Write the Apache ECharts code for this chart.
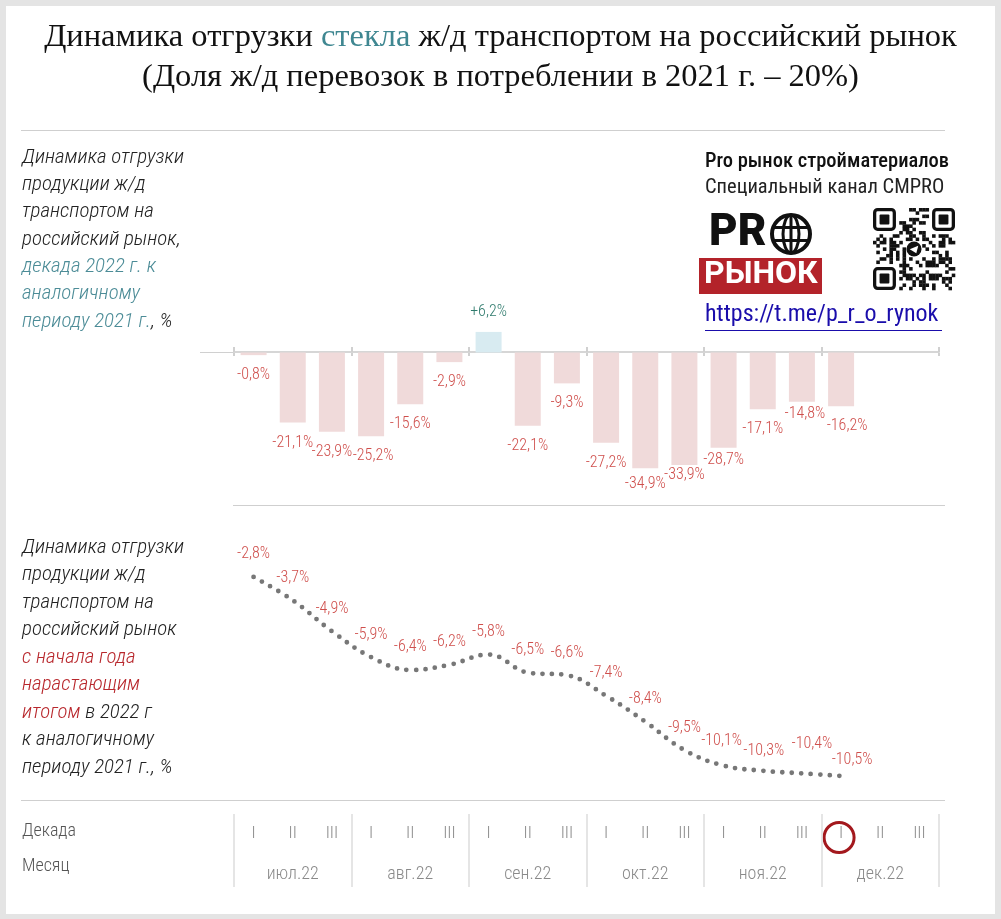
<!DOCTYPE html>
<html><head><meta charset="utf-8">
<script src="https://cdn.jsdelivr.net/npm/echarts@6/dist/echarts.min.js"></script>
<style>html,body{margin:0;padding:0;background:#e4e4e4;}#c{width:1001px;height:919px;}</style>
</head><body><div id="c"></div>
<script>
// ---- data ----
const months = ['июл.22', 'авг.22', 'сен.22', 'окт.22', 'ноя.22', 'дек.22'];
const decades = ['I', 'II', 'III'];
const decadeChange = [-0.8, -21.1, -23.9, -25.2, -15.6, -2.9, 6.2, -22.1, -9.3, -27.2, -34.9, -33.9, -28.7, -17.1, -14.8, -16.2];
const cumulativeChange = [-2.8, -3.7, -4.9, -5.9, -6.4, -6.2, -5.8, -6.5, -6.6, -7.4, -8.4, -9.5, -10.1, -10.3, -10.4, -10.5];
const currentDecadeIndex = 15;

const categories = [];
const decadeLabels = [];
months.forEach(m => decades.forEach(d => { categories.push(m + ' ' + d); decadeLabels.push(d); }));

const FONT = "'Roboto Condensed','Liberation Sans Narrow',Roboto,sans-serif";
const SERIF = "'Liberation Serif','Times New Roman',serif";
const RED = '#cf4f4c';
const fmt = v => (v > 0 ? '+' : '') + v.toFixed(1).replace('.', ',') + '%';

// label nudges (styling only, keyed by index) to avoid overlaps as in the original
const barLabelNudge = { 3: [2, 0], 10: [0, -4], 11: [0, -10], 12: [0, -8], 14: [3, -8], 15: [6, 0] };
const lineLabelNudge = { 12: [-2, -2], 13: [1, 3], 14: [10, -7], 15: [11, 7] };

const barData = decadeChange.map((v, i) => ({
  value: v,
  itemStyle: { color: v >= 0 ? '#d8ebf1' : '#f0dada' },
  label: { position: v >= 0 ? 'top' : 'bottom', color: v >= 0 ? '#2e7a6c' : RED, offset: barLabelNudge[i] || [0, 0] }
}));
const lineData = cumulativeChange.map((v, i) => ({
  value: v,
  label: { offset: lineLabelNudge[i] || [0, 0] }
}));

const L = 234, W = 705;
const chart = echarts.init(document.getElementById('c'), null, { renderer: 'canvas' });

// QR-like decoration
function qrChildren(x0, y0, size) {
  const n = 25, m = size / n, kids = [];
  const inFinder = (i, j) => (i < 8 && j < 8) || (i < 8 && j >= n - 8) || (i >= n - 8 && j < 8);
  for (let i = 0; i < n; i++) for (let j = 0; j < n; j++) {
    if (inFinder(i, j)) continue;
    if (i >= 10 && i <= 14 && j >= 10 && j <= 14) continue;
    const h = ((i * 31 + j * 17 + i * j * 7) ^ (i * 5 + j * 3)) % 7;
    if (h < 3) kids.push({ type: 'rect', shape: { x: x0 + j * m, y: y0 + i * m, width: m + 0.3, height: m + 0.3 }, style: { fill: '#111' } });
  }
  [[0, 0], [0, n - 7], [n - 7, 0]].forEach(([i, j]) => {
    const x = x0 + j * m, y = y0 + i * m;
    kids.push({ type: 'rect', shape: { x: x + m / 2, y: y + m / 2, width: 6 * m, height: 6 * m, r: 3 }, style: { fill: 'none', stroke: '#111', lineWidth: m } });
    kids.push({ type: 'rect', shape: { x: x + 2 * m, y: y + 2 * m, width: 3 * m, height: 3 * m, r: 1 }, style: { fill: '#111' } });
  });
  kids.push({ type: 'circle', shape: { cx: x0 + 12.5 * m, cy: y0 + 12.5 * m, r: 2.3 * m }, style: { fill: '#111' } });
  kids.push({ type: 'polygon', shape: { points: [[x0 + 11.2 * m, y0 + 12.6 * m], [x0 + 13.8 * m, y0 + 11.5 * m], [x0 + 13.2 * m, y0 + 13.8 * m]] }, style: { fill: '#fff' } });
  return kids;
}

const option = {
  animation: false,
  backgroundColor: 'transparent',
  title: {
    text: '{a|Динамика отгрузки }{b|стекла}{a| ж/д транспортом на российский рынок}\n{a|(Доля ж/д перевозок в потреблении в 2021 г. – 20%)}',
    left: 'center', top: 12,
    textStyle: {
      fontWeight: 'normal',
      rich: {
        a: { fontFamily: SERIF, fontWeight: 'normal', fontSize: 32.5, color: '#111', lineHeight: 40 },
        b: { fontFamily: SERIF, fontWeight: 'normal', fontSize: 32.5, color: '#3f8791', lineHeight: 40 }
      }
    }
  },
  grid: [
    { left: L, width: W, top: 319.3, height: 166 },      // bars
    { left: L, width: W, top: 556.3, height: 258.4 },    // line
    { left: L, width: W, top: 814, height: 73 },         // decade/month axis
    { left: L, width: W, top: 352, height: 1 }           // zero axis
  ],
  xAxis: [
    { gridIndex: 0, type: 'category', data: categories, show: false },
    { gridIndex: 1, type: 'category', data: categories, show: false },
    { gridIndex: 2, type: 'category', data: decadeLabels, position: 'top',
      axisLine: { show: false }, axisTick: { show: false }, splitLine: { show: false },
      axisLabel: { inside: true, margin: 11, interval: 0, color: '#8a8a8a', fontSize: 17, fontWeight: 300, fontFamily: FONT } },
    { gridIndex: 2, type: 'category', data: months, position: 'bottom',
      axisLine: { show: false }, axisTick: { show: false },
      splitLine: { show: true, lineStyle: { color: '#dcdcdc', width: 1.5 } },
      axisLabel: { inside: true, margin: 4, interval: 0, color: '#8a8a8a', fontSize: 18, fontWeight: 300, fontFamily: FONT } },
    { gridIndex: 3, type: 'category', data: categories, position: 'top',
      axisLine: { show: true, onZero: false, lineStyle: { color: '#d6d6d6', width: 2 } },
      axisTick: { show: true, interval: 2, length: 5, lineStyle: { color: '#d0d0d0', width: 2 } },
      axisLabel: { show: false } },
    { gridIndex: 3, type: 'category', data: categories, position: 'bottom',
      axisLine: { show: false, onZero: false },
      axisTick: { show: true, interval: 2, length: 3, lineStyle: { color: '#d0d0d0', width: 2 } },
      axisLabel: { show: false } }
  ],
  yAxis: [
    { gridIndex: 0, type: 'value', min: -40, max: 10, show: false },
    { gridIndex: 1, type: 'value', min: -12, max: -2, show: false },
    { gridIndex: 2, type: 'value', show: false },
    { gridIndex: 3, type: 'value', show: false, min: 0, max: 1 }
  ],
  series: [
    { type: 'bar', xAxisIndex: 0, yAxisIndex: 0, data: barData, barWidth: 26, z: 3,
      label: { show: true, distance: 12, fontSize: 16, fontWeight: 300, fontFamily: FONT, formatter: p => fmt(p.value) } },
    { type: 'line', xAxisIndex: 1, yAxisIndex: 1, data: lineData, smooth: 0.4, showSymbol: true,
      symbol: 'circle', symbolSize: 1, itemStyle: { color: 'rgba(0,0,0,0)' },
      lineStyle: { color: '#777', width: 4.8, type: [0, 9.5], cap: 'round' },
      label: { show: true, position: 'top', distance: 14, color: RED, fontSize: 16, fontWeight: 300, fontFamily: FONT, formatter: p => fmt(p.value) } }
  ],
  graphic: [
    { type: 'rect', z: -10, silent: true, shape: { x: 6, y: 6, width: 989, height: 908 }, style: { fill: '#fff' } },
    { type: 'line', shape: { x1: 21, y1: 130.5, x2: 945, y2: 130.5 }, style: { stroke: '#cfcfcf', lineWidth: 1 } },
    { type: 'line', shape: { x1: 233, y1: 505.5, x2: 945, y2: 505.5 }, style: { stroke: '#cfcfcf', lineWidth: 1 } },
    { type: 'line', shape: { x1: 21, y1: 800.5, x2: 945, y2: 800.5 }, style: { stroke: '#cfcfcf', lineWidth: 1 } },
    { type: 'line', shape: { x1: 200, y1: 352.5, x2: 234, y2: 352.5 }, style: { stroke: '#d0d0d0', lineWidth: 1 } },
    { type: 'text', left: 22, top: 147, style: {
        text: '{n|Динамика отгрузки}\n{n|продукции ж/д}\n{n|транспортом на}\n{n|российский рынок,}\n{t|декада 2022 г. к}\n{t|аналогичному}\n{t|периоду 2021 г.}{n|, %}',
        rich: {
          n: { fontFamily: FONT, fontStyle: 'italic', fontWeight: 300, fontSize: 21, lineHeight: 27.3, fill: '#222' },
          t: { fontFamily: FONT, fontStyle: 'italic', fontWeight: 300, fontSize: 21, lineHeight: 27.3, fill: '#4c8c97' }
        } } },
    { type: 'text', left: 22, top: 537, style: {
        text: '{n|Динамика отгрузки}\n{n|продукции ж/д}\n{n|транспортом на}\n{n|российский рынок}\n{r|с начала года}\n{r|нарастающим}\n{r|итогом}{n| в 2022 г}\n{n|к аналогичному}\n{n|периоду 2021 г., %}',
        rich: {
          n: { fontFamily: FONT, fontStyle: 'italic', fontWeight: 300, fontSize: 21, lineHeight: 27.5, fill: '#222' },
          r: { fontFamily: FONT, fontStyle: 'italic', fontWeight: 300, fontSize: 21, lineHeight: 27.5, fill: '#b8272c' }
        } } },
    { type: 'text', left: 22, top: 822, style: { text: 'Декада', font: "300 18px " + FONT, fill: '#555' } },
    { type: 'text', left: 22, top: 857, style: { text: 'Месяц', font: "300 18px " + FONT, fill: '#555' } },
    // logo block
    { type: 'text', left: 705, top: 151, style: { text: 'Pro рынок стройматериалов', font: "500 20.5px " + FONT, fill: '#111' } },
    { type: 'text', left: 705, top: 177, style: { text: 'Специальный канал CMPRO', font: "400 20.5px " + FONT, fill: '#222' } },
    { type: 'text', left: 709, top: 212, style: { text: 'PR', font: "900 44px Roboto, sans-serif", fill: '#111' } },
    { type: 'circle', shape: { cx: 791, cy: 234, r: 19 }, style: { fill: 'none', stroke: '#111', lineWidth: 4 } },
    { type: 'ellipse', shape: { cx: 791, cy: 234, rx: 8, ry: 19 }, style: { fill: 'none', stroke: '#111', lineWidth: 3 } },
    { type: 'line', shape: { x1: 791, y1: 215, x2: 791, y2: 253 }, style: { stroke: '#111', lineWidth: 3 } },
    { type: 'line', shape: { x1: 773, y1: 227.5, x2: 809, y2: 227.5 }, style: { stroke: '#111', lineWidth: 3 } },
    { type: 'line', shape: { x1: 773, y1: 240.5, x2: 809, y2: 240.5 }, style: { stroke: '#111', lineWidth: 3 } },
    { type: 'rect', shape: { x: 699, y: 258, width: 123, height: 36 }, style: { fill: '#b3232a' } },
    { type: 'text', left: 704, top: 259, style: { text: 'РЫНОК', font: "700 32px Roboto, sans-serif", fill: '#fff' } },
    { type: 'group', children: qrChildren(873, 208, 82) },
    { type: 'text', left: 705, top: 303, style: { text: 'https://t.me/p_r_o_rynok', font: "400 24px " + FONT, fill: '#1a0dab' } },
    { type: 'line', shape: { x1: 705, y1: 330.5, x2: 942, y2: 330.5 }, style: { stroke: '#1a0dab', lineWidth: 1 } }
  ]
};
chart.setOption(option);

const cx = chart.convertToPixel({ xAxisIndex: 2 }, currentDecadeIndex);
chart.setOption({ graphic: option.graphic.concat([
  { type: 'circle', shape: { cx: cx - 2, cy: 837.5, r: 15 }, style: { fill: 'none', stroke: '#a3181d', lineWidth: 3 } }
]) });
</script></body></html>
